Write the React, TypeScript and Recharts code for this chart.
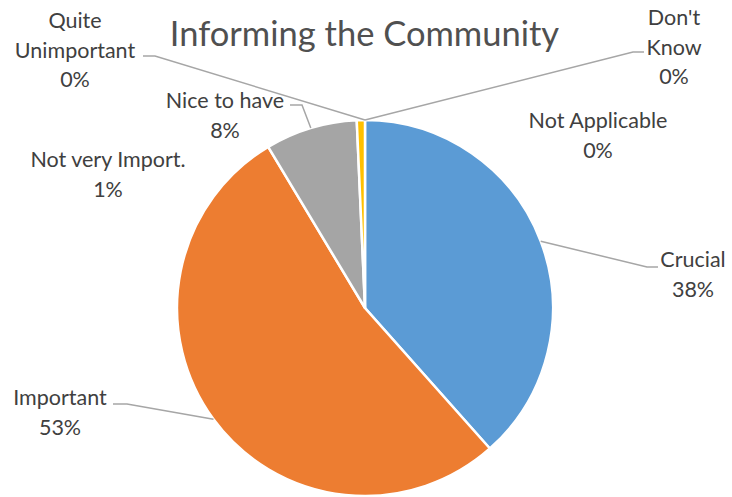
import React from 'react';
import { PieChart, Pie, Cell } from 'recharts';

const categories = ['Crucial', 'Important', 'Nice to have', 'Not very Import.', 'Quite Unimportant', "Don't Know", 'Not Applicable'];
const values = [38.4, 52.9, 7.9, 0.7, 0, 0, 0];
const colors = ['#5B9BD5', '#ED7D31', '#A5A5A5', '#FFC000', '#4472C4', '#70AD47', '#255E91'];
const title = 'Informing the Community';

const data = categories.map((name, i) => ({ name, value: values[i] }));

const FONT = 'Lato, "Open Sans", sans-serif';
const LINE = 29.5;

// label layout: text lines, center x, first baseline y, leader elbow points
const LAYOUT: Record<string, { lines: string[]; x: number; y: number; elbow?: [number, number][] }> = {
  'Crucial': { lines: ['Crucial'], x: 693, y: 267, elbow: [[647, 267], [658, 267]] },
  'Important': { lines: ['Important'], x: 60, y: 405, elbow: [[127, 404], [113, 404]] },
  'Nice to have': { lines: ['Nice to have'], x: 225, y: 108, elbow: [[302, 105], [290, 105]] },
  'Not very Import.': { lines: ['Not very Import.'], x: 108, y: 167 },
  'Quite Unimportant': { lines: ['Quite', 'Unimportant'], x: 75, y: 28, elbow: [[155, 56], [143, 56]] },
  "Don't Know": { lines: ["Don't", 'Know'], x: 674, y: 25, elbow: [[633, 52], [644, 52]] },
  'Not Applicable': { lines: ['Not Applicable'], x: 598, y: 128 },
};

const RAD = Math.PI / 180;

const renderLabel = (props: any) => {
  const { cx, cy, midAngle, outerRadius, name, percent } = props;
  const lay = LAYOUT[name];
  if (!lay) return null;
  const sx = cx + outerRadius * Math.cos(-midAngle * RAD);
  const sy = cy + outerRadius * Math.sin(-midAngle * RAD);
  const allLines = [...lay.lines, `${Math.round((percent || 0) * 100)}%`];
  return (
    <g key={`lbl-${name}`}>
      {lay.elbow && (
        <polyline
          points={[[sx, sy], ...lay.elbow].map((p) => p.join(',')).join(' ')}
          fill="none"
          stroke="#A6A6A6"
          strokeWidth={1.5}
        />
      )}
      <text x={lay.x} y={lay.y} textAnchor="middle" fill="#404040" fontFamily={FONT} fontSize={21.5}>
        {allLines.map((l, i) => (
          <tspan key={i} x={lay.x} y={lay.y + i * LINE}>
            {l}
          </tspan>
        ))}
      </text>
    </g>
  );
};

export default function App() {
  return (
    <div style={{ position: 'absolute', left: 0, top: 0, width: 732, height: 497, background: '#fff' }}>
      <div
        style={{
          position: 'absolute',
          left: 0,
          top: 13,
          width: 729,
          textAlign: 'center',
          fontFamily: FONT,
          fontSize: 34.5,
          color: '#505050',
          lineHeight: '40px',
        }}
      >
        {title}
      </div>
      <PieChart width={732} height={497} margin={{ top: 0, right: 0, bottom: 0, left: 0 }} style={{ position: 'absolute', left: 0, top: 0 }}>
        <Pie
          data={data}
          dataKey="value"
          nameKey="name"
          cx={365}
          cy={308}
          outerRadius={188}
          startAngle={90}
          endAngle={-270}
          stroke="#FFFFFF"
          strokeWidth={2.5}
          label={renderLabel}
          labelLine={false}
          isAnimationActive={false}
        >
          {data.map((d, i) => (
            <Cell key={d.name} fill={colors[i]} />
          ))}
        </Pie>
      </PieChart>
    </div>
  );
}
